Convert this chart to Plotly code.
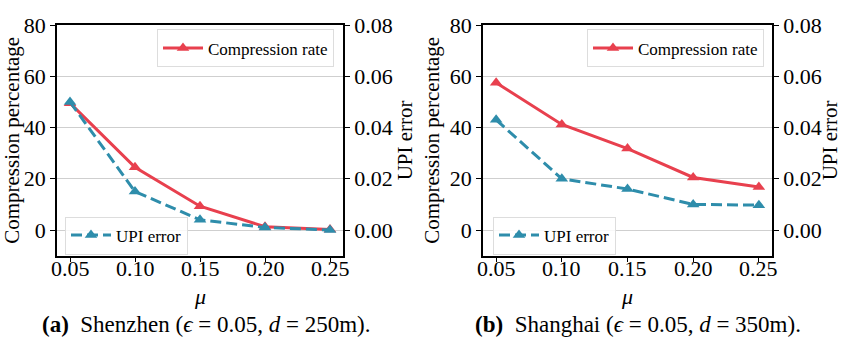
import plotly.graph_objects as go

mu = [0.05, 0.10, 0.15, 0.20, 0.25]
sz_compression = [49.5, 24.5, 9.3, 1.3, 0.2]
sz_upi = [0.050, 0.015, 0.004, 0.001, 0.000]
sh_compression = [57.5, 41.2, 31.8, 20.5, 16.8]
sh_upi = [0.043, 0.020, 0.016, 0.010, 0.0097]
x_ticks = [0.05, 0.10, 0.15, 0.20, 0.25]
x_ticklabels = ["0.05", "0.10", "0.15", "0.20", "0.25"]
left_ticks = [0, 20, 40, 60, 80]
right_ticks = [0.00, 0.02, 0.04, 0.06, 0.08]
right_ticklabels = ["0.00", "0.02", "0.04", "0.06", "0.08"]
captions = ["<b>(a)</b>  Shenzhen (<i>ϵ</i> = 0.05, <i>d</i> = 250m).",
            "<b>(b)</b>  Shanghai (<i>ϵ</i> = 0.05, <i>d</i> = 350m)."]

RED = "#E8404E"
BLUE = "#2E8DAB"
FONT = "'Liberation Serif', 'Times New Roman', 'DejaVu Serif', serif"
W, H = 842, 342

def px_x(p):
    return p / W

def px_y(p):
    return 1 - p / H

fig = go.Figure()

panels = [
    (sz_compression, sz_upi, "x", "y", "y2", "legend", "legend2"),
    (sh_compression, sh_upi, "x2", "y3", "y4", "legend3", "legend4"),
]
for comp, upi, xa, ya, ya2, lg1, lg2 in panels:
    fig.add_trace(go.Scatter(
        x=mu, y=comp, xaxis=xa, yaxis=ya, name="Compression rate",
        mode="lines+markers", line=dict(color=RED, width=3),
        marker=dict(symbol="triangle-up", size=11, color=RED),
        legend=lg1))
    fig.add_trace(go.Scatter(
        x=mu, y=upi, xaxis=xa, yaxis=ya2, name="UPI error",
        mode="lines+markers", line=dict(color=BLUE, width=3, dash="11px,5px"),
        marker=dict(symbol="triangle-up", size=11, color=BLUE),
        legend=lg2))

doms_x = [[px_x(57), px_x(343)], [px_x(483), px_x(772)]]
dom_y = [px_y(252.5), px_y(13.5)]

tickfont = dict(family=FONT, size=22, color="black")
titlefont = dict(family=FONT, size=21, color="black")

common_x = dict(range=[0.04, 0.26], tickvals=x_ticks, showticklabels=False,
                ticks="outside", ticklen=5, tickwidth=1.2, tickcolor="black",
                showline=True, linecolor="black", linewidth=1.5, mirror=True,
                showgrid=False, zeroline=False)
common_yl = dict(range=[-10, 80], tickvals=left_ticks,
                 ticks="outside", ticklen=5, tickwidth=1.2, tickcolor="black",
                 showline=True, linecolor="black", linewidth=1.5,
                 showgrid=True, gridcolor="#cfcfcf", gridwidth=1.2,
                 zeroline=False, tickfont=tickfont,
                 title=dict(text="Compression percentage", font=titlefont, standoff=4))
common_yr = dict(range=[-0.01, 0.08], tickvals=right_ticks, ticktext=right_ticklabels,
                 side="right", ticks="outside", ticklen=5, tickwidth=1.2, tickcolor="black",
                 showline=True, linecolor="black", linewidth=1.5,
                 showgrid=False, zeroline=False, tickfont=tickfont,
                 title=dict(text="UPI error", font=titlefont, standoff=4))

legend_common = dict(bgcolor="rgba(255,255,255,0.85)", bordercolor="#dddddd",
                      borderwidth=1, font=dict(family=FONT, size=17, color="black"),
                      xanchor="right", yanchor="top", itemwidth=40,
                      tracegroupgap=0)

fig.update_layout(
    width=W, height=H,
    margin=dict(l=0, r=0, t=0, b=0),
    paper_bgcolor="white", plot_bgcolor="white",
    showlegend=True,
    font=dict(family=FONT),
    xaxis=dict(domain=doms_x[0], anchor="y", **common_x),
    yaxis=dict(domain=dom_y, anchor="x", **common_yl),
    yaxis2=dict(overlaying="y", anchor="x", **common_yr),
    xaxis2=dict(domain=doms_x[1], anchor="y3", **common_x),
    yaxis3=dict(domain=dom_y, anchor="x2", **common_yl),
    yaxis4=dict(overlaying="y3", anchor="x2", **common_yr),
    legend=dict(x=px_x(334), y=px_y(18), **legend_common),
    legend2=dict(**{**legend_common, "xanchor": "left"}, x=px_x(65), y=px_y(212)),
    legend3=dict(x=px_x(764), y=px_y(18), **legend_common),
    legend4=dict(**{**legend_common, "xanchor": "left"}, x=px_x(493), y=px_y(212)),
)

# x tick labels placed at the axis' own tick values
for xref in ("x", "x2"):
    for tv, tt in zip(x_ticks, x_ticklabels):
        fig.add_annotation(text=tt, x=tv, y=px_y(266), xref=xref, yref="paper",
                           showarrow=False, xanchor="center", yanchor="middle",
                           font=tickfont)

for cx in (200, 627):
    fig.add_annotation(text="<i>μ</i>", x=px_x(cx), y=px_y(279.5), xref="paper", yref="paper",
                       showarrow=False, xanchor="center", yanchor="top",
                       font=dict(family=FONT, size=22, color="black"))

fig.add_annotation(text=captions[0], x=px_x(206), y=px_y(324), xref="paper", yref="paper",
                   showarrow=False, xanchor="center", yanchor="middle",
                   font=dict(family=FONT, size=23, color="black"))
fig.add_annotation(text=captions[1], x=px_x(638), y=px_y(324), xref="paper", yref="paper",
                   showarrow=False, xanchor="center", yanchor="middle",
                   font=dict(family=FONT, size=23, color="black"))

fig.write_html("out.html")
